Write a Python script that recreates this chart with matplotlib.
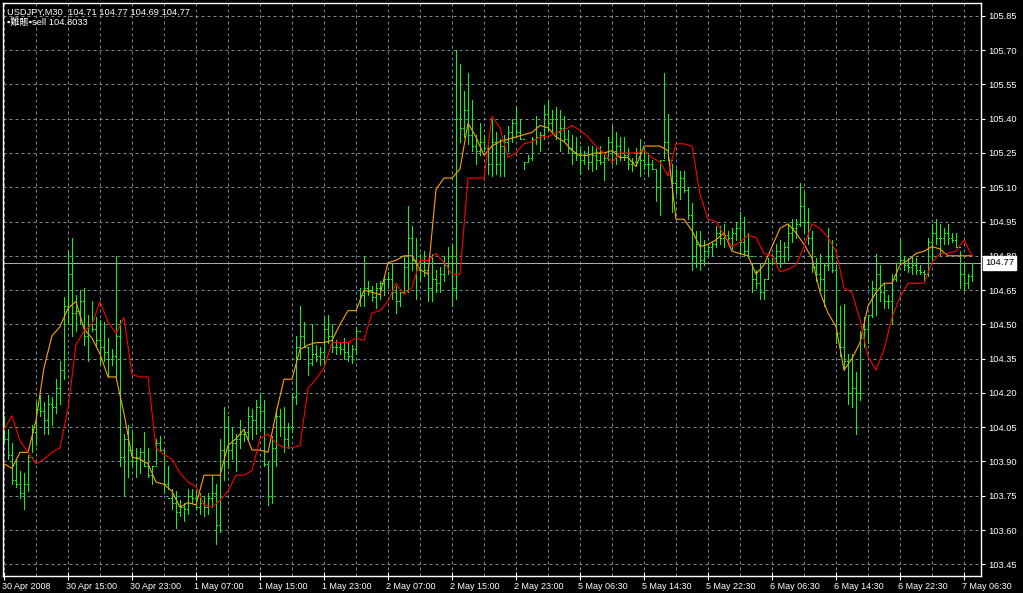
import numpy as np
import matplotlib
matplotlib.use("Agg")
import matplotlib.pyplot as plt
from matplotlib.collections import LineCollection
import matplotlib.transforms as mtransforms

# ---------------- data ----------------
symbol_text = "USDJPY,M30  104.71 104.77 104.69 104.77"
indicator_text = "\u25aa難賬\u25aasell 104.8033"

high = [104.10, 104.04, 103.98, 103.91, 103.86, 103.85, 103.93, 104.06, 104.16, 104.19,
        104.16, 104.19, 104.18, 104.26, 104.34, 104.62, 104.82, 104.88, 104.63, 104.65,
        104.66, 104.54, 104.60, 104.53, 104.52, 104.51, 104.44, 104.39, 104.80, 104.52,
        104.02, 104.06, 104.03, 103.96, 103.96, 104.03, 103.96, 103.88, 104.00, 104.01,
        103.95, 103.88, 103.78, 103.77, 103.73, 103.72, 103.78, 103.78, 103.77, 103.76,
        103.75, 103.76, 103.84, 103.80, 104.00, 104.14, 104.10, 104.05, 104.02, 104.08,
        104.04, 104.14, 104.13, 104.17, 104.20, 104.17, 103.90, 104.01, 104.13, 104.13,
        104.14, 104.07, 104.20, 104.45, 104.58, 104.51, 104.40, 104.50, 104.41, 104.40,
        104.53, 104.54, 104.50, 104.43, 104.42, 104.44, 104.42, 104.41, 104.49, 104.66,
        104.80, 104.69, 104.67, 104.68, 104.69, 104.71, 104.73, 104.77, 104.67, 104.64,
        104.80, 105.02, 104.93, 104.88, 104.81, 104.82, 104.76, 104.81, 104.74, 104.75,
        104.80, 104.84, 104.85, 105.70, 105.64, 105.52, 105.60, 105.48, 105.33, 105.38,
        105.33, 105.28, 105.40, 105.34, 105.31, 105.33, 105.37, 105.40, 105.45, 105.40,
        105.21, 105.24, 105.32, 105.41, 105.34, 105.46, 105.48, 105.44, 105.45, 105.44,
        105.41, 105.35, 105.33, 105.32, 105.28, 105.26, 105.28, 105.28, 105.27, 105.28,
        105.24, 105.32, 105.37, 105.34, 105.32, 105.32, 105.27, 105.23, 105.27, 105.31,
        105.27, 105.25, 105.22, 105.18, 105.22, 105.60, 105.42, 105.20, 105.18, 105.17,
        105.17, 105.10, 105.03, 104.91, 104.91, 104.87, 104.85, 104.86, 104.93, 104.93,
        104.94, 104.91, 104.92, 104.95, 104.99, 104.97, 104.90, 104.77, 104.74, 104.77,
        104.70, 104.79, 104.81, 104.85, 104.87, 104.86, 104.94, 104.96, 104.96, 105.12,
        105.08, 105.01, 104.91, 104.79, 104.81, 104.77, 104.92, 104.87, 104.76, 104.58,
        104.59, 104.37, 104.37, 104.29, 104.47, 104.53, 104.54, 104.69, 104.81, 104.76,
        104.68, 104.63, 104.72, 104.77, 104.88, 104.80, 104.79, 104.80, 104.79, 104.76,
        104.74, 104.88, 104.94, 104.96, 104.94, 104.92, 104.94, 104.90, 104.90, 104.82,
        104.77, 104.72, 104.77]

low = [103.99, 103.91, 103.80, 103.79, 103.74, 103.69, 103.77, 103.94, 103.97, 104.10,
       104.02, 104.02, 104.06, 104.11, 104.15, 104.26, 104.50, 104.45, 104.47, 104.50,
       104.41, 104.34, 104.47, 104.40, 104.32, 104.34, 104.27, 104.32, 104.27, 103.88,
       103.75, 103.83, 103.88, 103.83, 103.85, 103.88, 103.83, 103.80, 103.89, 103.95,
       103.76, 103.78, 103.69, 103.61, 103.66, 103.64, 103.67, 103.72, 103.69, 103.67,
       103.66, 103.67, 103.70, 103.54, 103.59, 103.82, 103.87, 103.91, 103.86, 103.96,
       103.99, 104.00, 104.00, 104.02, 104.04, 103.88, 103.71, 103.72, 103.88, 104.01,
       103.94, 103.96, 104.03, 104.15, 104.35, 104.40, 104.28, 104.32, 104.34, 104.32,
       104.32, 104.42, 104.38, 104.37, 104.37, 104.35, 104.34, 104.33, 104.37, 104.58,
       104.58, 104.63, 104.60, 104.57, 104.61, 104.63, 104.66, 104.61, 104.55, 104.58,
       104.64, 104.64, 104.74, 104.61, 104.69, 104.71, 104.60, 104.60, 104.64, 104.64,
       104.69, 104.72, 104.58, 104.61, 105.30, 105.32, 105.29, 105.26, 105.20, 105.24,
       105.26, 105.16, 105.15, 105.16, 105.15, 105.15, 105.26, 105.30, 105.33, 105.31,
       105.18, 105.21, 105.22, 105.29, 105.26, 105.31, 105.35, 105.34, 105.31, 105.26,
       105.30, 105.25, 105.20, 105.22, 105.16, 105.20, 105.18, 105.17, 105.18, 105.20,
       105.13, 105.22, 105.20, 105.20, 105.22, 105.22, 105.18, 105.17, 105.20, 105.15,
       105.18, 105.15, 105.18, 105.04, 104.98, 105.23, 105.22, 104.99, 105.07, 105.05,
       105.08, 104.96, 104.74, 104.75, 104.74, 104.76, 104.80, 104.80, 104.84, 104.85,
       104.84, 104.86, 104.83, 104.87, 104.81, 104.80, 104.80, 104.64, 104.66, 104.61,
       104.61, 104.70, 104.76, 104.77, 104.75, 104.77, 104.78, 104.86, 104.88, 104.93,
       104.90, 104.85, 104.73, 104.69, 104.65, 104.58, 104.74, 104.73, 104.42, 104.36,
       104.30, 104.15, 104.14, 104.02, 104.17, 104.40, 104.42, 104.53, 104.54, 104.60,
       104.57, 104.57, 104.50, 104.69, 104.77, 104.74, 104.73, 104.72, 104.72, 104.72,
       104.69, 104.71, 104.78, 104.85, 104.80, 104.85, 104.85, 104.86, 104.84, 104.66,
       104.65, 104.66, 104.69]

close = [104.00, 103.93, 103.82, 103.80, 103.76, 103.80, 103.92, 104.03, 104.13, 104.12,
         104.08, 104.15, 104.14, 104.22, 104.30, 104.58, 104.72, 104.55, 104.56, 104.60,
         104.45, 104.50, 104.48, 104.43, 104.40, 104.38, 104.35, 104.36, 104.45, 103.92,
         104.00, 103.95, 103.90, 103.92, 103.94, 103.88, 103.84, 103.88, 103.98, 103.95,
         103.80, 103.74, 103.72, 103.68, 103.70, 103.69, 103.75, 103.74, 103.70, 103.72,
         103.70, 103.74, 103.76, 103.62, 103.95, 104.05, 103.95, 103.98, 104.00, 104.02,
         104.03, 104.10, 104.08, 104.14, 104.12, 103.89, 103.75, 103.96, 104.10, 104.05,
         104.00, 104.05, 104.18, 104.40, 104.45, 104.40, 104.33, 104.37, 104.36, 104.38,
         104.48, 104.45, 104.40, 104.40, 104.39, 104.38, 104.36, 104.39, 104.47, 104.63,
         104.66, 104.65, 104.62, 104.66, 104.68, 104.70, 104.70, 104.64, 104.60, 104.64,
         104.75, 104.88, 104.78, 104.74, 104.78, 104.74, 104.66, 104.70, 104.68, 104.72,
         104.76, 104.80, 104.66, 105.40, 105.36, 105.44, 105.33, 105.28, 105.26, 105.30,
         105.27, 105.20, 105.30, 105.20, 105.28, 105.30, 105.34, 105.38, 105.34, 105.31,
         105.21, 105.23, 105.31, 105.32, 105.33, 105.42, 105.38, 105.40, 105.34, 105.36,
         105.31, 105.27, 105.25, 105.24, 105.22, 105.24, 105.21, 105.24, 105.22, 105.21,
         105.23, 105.30, 105.26, 105.28, 105.25, 105.24, 105.20, 105.21, 105.25, 105.22,
         105.20, 105.20, 105.18, 105.10, 105.22, 105.30, 105.22, 105.12, 105.10, 105.14,
         105.09, 104.98, 104.80, 104.85, 104.78, 104.82, 104.84, 104.85, 104.90, 104.88,
         104.89, 104.88, 104.90, 104.92, 104.86, 104.82, 104.80, 104.70, 104.68, 104.64,
         104.70, 104.77, 104.79, 104.82, 104.80, 104.84, 104.90, 104.92, 104.94, 105.02,
         104.95, 104.88, 104.75, 104.72, 104.70, 104.76, 104.80, 104.74, 104.46, 104.40,
         104.34, 104.20, 104.22, 104.20, 104.44, 104.48, 104.54, 104.66, 104.72, 104.64,
         104.60, 104.60, 104.70, 104.77, 104.78, 104.76, 104.75, 104.76, 104.74, 104.73,
         104.72, 104.86, 104.90, 104.88, 104.88, 104.90, 104.88, 104.87, 104.84, 104.72,
         104.68, 104.71, 104.77]

first_open = 104.08

# indicator lines, one value every second bar
orange_line = [103.89, 103.87, 103.94, 103.94, 104.08, 104.31, 104.45, 104.49, 104.57, 104.60,
               104.48, 104.44, 104.37, 104.27, 104.27, 104.11, 103.92, 103.91, 103.89, 103.81,
               103.80, 103.77, 103.70, 103.72, 103.71, 103.84, 103.84, 103.84, 103.97, 104.00,
               104.04, 103.95, 103.95, 103.94, 104.11, 104.26, 104.26, 104.39, 104.41, 104.42,
               104.42, 104.43, 104.50, 104.56, 104.56, 104.65, 104.64, 104.63, 104.77, 104.78,
               104.80, 104.80, 104.74, 104.72, 105.09, 105.14, 105.14, 105.18, 105.38, 105.32,
               105.24, 105.28, 105.30, 105.31, 105.32, 105.33, 105.34, 105.37, 105.36, 105.32,
               105.30, 105.26, 105.24, 105.24, 105.25, 105.25, 105.26, 105.23, 105.23, 105.19,
               105.28, 105.28, 105.28, 105.26, 104.96, 104.96, 104.91, 104.84, 104.85, 104.87,
               104.90, 104.82, 104.81, 104.80, 104.72, 104.76, 104.84, 104.92, 104.94, 104.90,
               104.85, 104.79, 104.64, 104.55, 104.49, 104.30, 104.35, 104.42, 104.58, 104.64,
               104.68, 104.68, 104.76, 104.78, 104.81, 104.82, 104.84, 104.83, 104.80, 104.80,
               104.80, 104.80]

red_line = [104.04, 104.10, 103.99, 103.94, 103.89, 103.91, 103.94, 103.96, 104.13, 104.41,
            104.47, 104.50, 104.60, 104.51, 104.46, 104.53, 104.28, 104.27, 104.27, 103.96,
            103.93, 103.91, 103.85, 103.81, 103.79, 103.71, 103.70, 103.73, 103.77, 103.84,
            103.84, 103.86, 104.00, 104.02, 103.98, 103.96, 103.96, 103.97, 104.22, 104.26,
            104.31, 104.42, 104.42, 104.42, 104.44, 104.43, 104.55, 104.56, 104.60, 104.68,
            104.63, 104.66, 104.78, 104.78, 104.81, 104.77, 104.72, 104.72, 105.14, 105.14,
            105.14, 105.41, 105.36, 105.23, 105.25, 105.29, 105.30, 105.32, 105.32, 105.34,
            105.35, 105.37, 105.35, 105.32, 105.28, 105.25, 105.21, 105.25, 105.25, 105.25,
            105.26, 105.23, 105.21, 105.15, 105.29, 105.29, 105.28, 105.07, 104.96, 104.95,
            104.89, 104.84, 104.86, 104.89, 104.88, 104.81, 104.80, 104.73, 104.74, 104.76,
            104.84, 104.94, 104.92, 104.88, 104.82, 104.66, 104.64, 104.52, 104.36, 104.30,
            104.39, 104.53, 104.62, 104.68, 104.68, 104.68, 104.77, 104.81, 104.81, 104.82,
            104.87, 104.80]

bid_price = 104.77

x_tick_labels = ["30 Apr 2008", "30 Apr 15:00", "30 Apr 23:00", "1 May 07:00",
                 "1 May 15:00", "1 May 23:00", "2 May 07:00", "2 May 15:00",
                 "2 May 23:00", "5 May 06:30", "5 May 14:30", "5 May 22:30",
                 "6 May 06:30", "6 May 14:30", "6 May 22:30", "7 May 06:30"]
y_tick_values = [103.45, 103.60, 103.75, 103.90, 104.05, 104.20, 104.35, 104.50, 104.65,
                 104.80, 104.95, 105.10, 105.25, 105.40, 105.55, 105.70, 105.85]

# ---------------- styling ----------------
BG = "black"
BAR_C = "#00FF00"
ORANGE = "#FFA500"
RED = "#FF0000"
GRID_C = "#778899"
FG = "white"
FONT = ["Liberation Sans", "Noto Sans CJK JP", "DejaVu Sans"]
plt.rcParams["font.family"] = FONT

W, H = 1023, 593
fig = plt.figure(figsize=(W / 100, H / 100), dpi=100, facecolor=BG)
ax = fig.add_axes([3 / W, 17 / H, 978 / W, 573 / H], facecolor=BG)

n = len(high)
idx = np.arange(n)
opens = [first_open] + close[:-1]
px1 = 0.72  # one pixel in points

# grid (every 8 bars vertically, every y tick horizontally)
for gx in range(0, n, 8):
    ax.axvline(gx, color=GRID_C, lw=px1, ls=(0, (3, 3)), zorder=0.5)
for gy in y_tick_values:
    ax.axhline(gy, color=GRID_C, lw=px1, ls=(0, (3, 3)), zorder=0.5)

# bid line
ax.axhline(bid_price, color="#A8ABB0", lw=px1, zorder=1)

# OHLC bars
segs = []
for i in idx:
    segs.append([(i, low[i]), (i, high[i])])
    segs.append([(i - 0.3, opens[i]), (i, opens[i])])
    segs.append([(i, close[i]), (i + 0.3, close[i])])
lc = LineCollection(segs, colors=BAR_C, linewidths=px1 * 1.0, antialiaseds=False, zorder=2)
ax.add_collection(lc)

# indicator lines
line_x = np.arange(0, n, 2)
ax.plot(line_x, orange_line, color=ORANGE, lw=px1 * 1.1, zorder=3)
ax.plot(line_x, red_line, color=RED, lw=px1 * 1.1, zorder=3)

ax.set_xlim(-0.25, 244.25)
ax.set_ylim(103.399, 105.906)

for s in ax.spines.values():
    s.set_color(FG)
    s.set_linewidth(1.0)

# y axis on the right
ax.yaxis.tick_right()
ax.set_yticks(y_tick_values)
ax.set_yticklabels([f"{v:.2f}" for v in y_tick_values])
ax.tick_params(axis="y", colors=FG, labelcolor=FG, labelsize=6.7, length=3, width=0.8, pad=2)

# x axis
ax.set_xticks(np.arange(0, n, 16)[:len(x_tick_labels)])
ax.set_xticklabels(x_tick_labels)
ax.tick_params(axis="x", colors=FG, labelcolor=FG, labelsize=6.5, length=6, width=0.8,
               direction="inout", pad=1)
offset = mtransforms.ScaledTranslation(-1.5 / 100, 0, fig.dpi_scale_trans)
for lab in ax.get_xticklabels():
    lab.set_horizontalalignment("left")
    lab.set_transform(lab.get_transform() + offset)

# bid price label box
trans = mtransforms.blended_transform_factory(ax.transAxes, ax.transData)
ax.text(1.0 + 4 / 978, bid_price, f"{bid_price:.2f}", transform=trans, ha="left", va="center",
        fontsize=6.8, color="black", zorder=5, clip_on=False,
        bbox=dict(boxstyle="square,pad=0.25", facecolor="white", edgecolor="white"))

# header texts
fig.text(7 / W, 1 - 12 / H, symbol_text, color=FG, fontsize=6.7, va="center", ha="left")
fig.text(7 / W, 1 - 22 / H, indicator_text, color=FG, fontsize=6.7, va="center", ha="left",
         family=FONT)

fig.savefig("out.png", dpi=100, facecolor=BG)
